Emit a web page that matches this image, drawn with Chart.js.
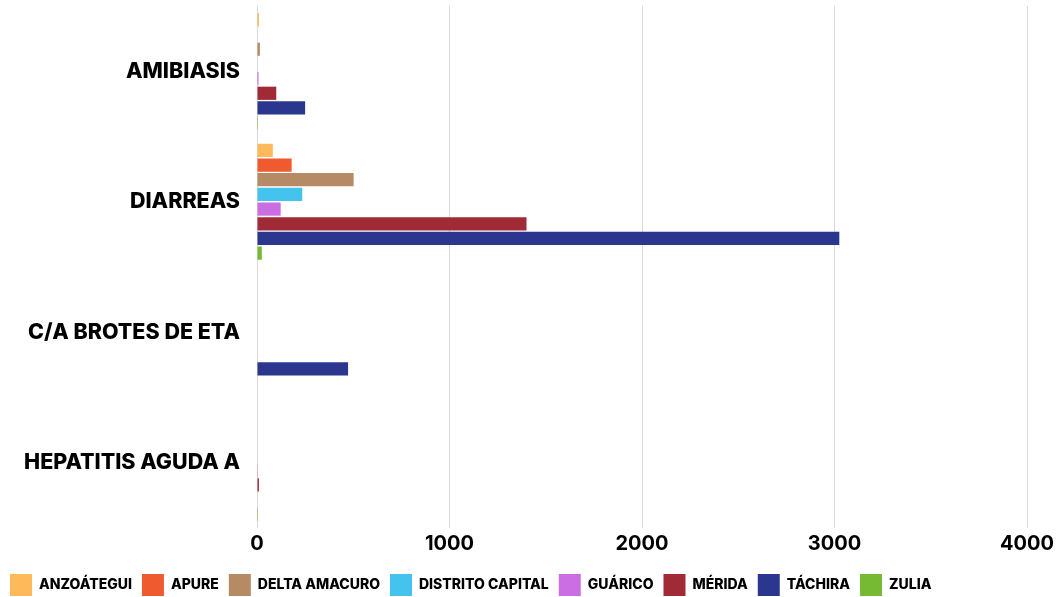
<!DOCTYPE html>
<html>
<head>
<meta charset="utf-8">
<script src="https://cdn.jsdelivr.net/npm/chart.js@4"></script>
<style>
  html, body { margin: 0; padding: 0; background: #fff; }
  #wrap { width: 1062px; height: 597px; }
</style>
</head>
<body>
<div id="wrap"><canvas id="chart"></canvas></div>
<script>
// categorías y valores por estado
const categorias = ['AMIBIASIS', 'DIARREAS', 'C/A BROTES DE ETA', 'HEPATITIS AGUDA A'];
const estados = ['ANZOÁTEGUI', 'APURE', 'DELTA AMACURO', 'DISTRITO CAPITAL', 'GUÁRICO', 'MÉRIDA', 'TÁCHIRA', 'ZULIA'];
const colores = ['#FDB95A', '#EF5B2E', '#B78A66', '#43C3EE', '#CC6EE3', '#A02A35', '#2B378E', '#76B932'];

const anzoategui = [10, 82, 0, 0];
const apure = [0, 180, 0, 0];
const deltaAmacuro = [15, 502, 0, 0];
const distritoCapital = [0, 235, 0, 0];
const guarico = [8, 123, 0, 1];
const merida = [100, 1400, 0, 10];
const tachira = [250, 3025, 473, 0];
const zulia = [5, 25, 0, 5];

const ticksX = [0, 1000, 2000, 3000, 4000];

const series = [anzoategui, apure, deltaAmacuro, distritoCapital, guarico, merida, tachira, zulia];

const fuente = 'Inter, "Open Sans", sans-serif';
const fuenteNum = '"Liberation Sans Narrow", Inter, sans-serif';

new Chart(document.getElementById('chart'), {
    type: 'bar',
    data: {
        labels: categorias,
        datasets: series.map((valores, i) => ({
            label: estados[i],
            data: valores,
            backgroundColor: colores[i],
            borderWidth: 0,
            categoryPercentage: 0.9,
            barPercentage: 0.9
        }))
    },
    options: {
        indexAxis: 'y',
        responsive: true,
        maintainAspectRatio: false,
        animation: false,
        layout: { padding: { top: 6, right: 35, left: 0, bottom: -9 } },
        plugins: {
            tooltip: { enabled: false },
            legend: {
                position: 'bottom',
                align: 'start',
                labels: {
                    boxWidth: 22,
                    boxHeight: 22,
                    padding: 10,
                    color: '#000',
                    font: { family: fuente, size: 14, weight: '800' }
                }
            }
        },
        scales: {
            x: {
                min: 0,
                max: 4000,
                afterBuildTicks: scale => { scale.ticks = ticksX.map(v => ({ value: v })); },
                afterFit: scale => { scale.height += 4; },
                grid: { color: '#d9d9d9', drawTicks: false },
                border: { display: false },
                ticks: {
                    color: '#000',
                    padding: 4,
                    callback: v => String(v),
                    font: { family: fuenteNum, size: 20, weight: 'bold' }
                }
            },
            y: {
                afterFit: scale => {
                    scale.width = 257;
                    scale.paddingTop = 0;
                    scale.paddingBottom = 0;
                },
                grid: { display: false, drawTicks: false },
                border: { display: false },
                ticks: {
                    color: '#000',
                    padding: 17,
                    font: { family: fuente, size: 21.5, weight: '800' }
                }
            }
        }
    }
});
</script>
</body>
</html>
